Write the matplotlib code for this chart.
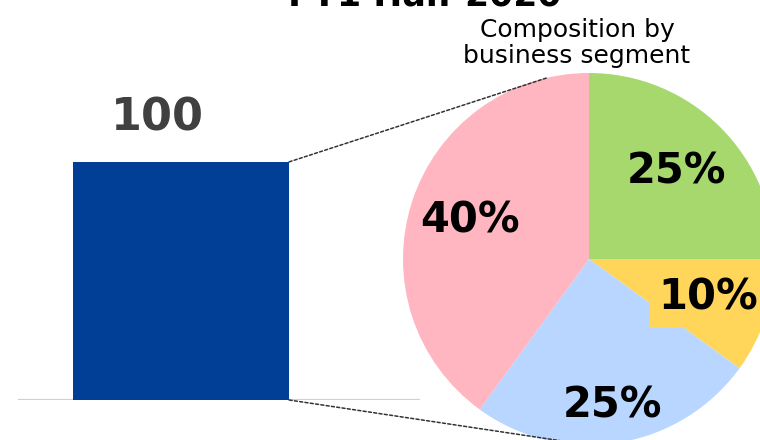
import numpy as np
import matplotlib.pyplot as plt
from matplotlib.patches import ConnectionPatch

# data
total_value = [100]
segment_share = [25, 10, 25, 40]
segment_colors = ['#A6D86E', '#FFD65A', '#B8D6FF', '#FFB6C0']
# how far out each percent label sits (fraction of radius)
label_radius = [0.665, 0.675, 0.795, 0.67]

fig = plt.figure(figsize=(7.6, 4.4), dpi=100)

# title (sits mostly above the top edge)
fig.text(425 / 760, 1 - 6 / 440, 'FY1 Half 2020', ha='center', va='baseline',
         fontsize=25, fontweight='bold', color='black')

# bar axes on the left
ax_bar = fig.add_axes([18 / 760, 40 / 440, 402 / 760, 400 / 440])
ax_bar.bar([0], total_value, width=1.0, color='#003F95')
ax_bar.set_xlim(-0.755, 1.106)
ax_bar.set_ylim(0, 168)
ax_bar.axhline(0, color='#D0D0D0', lw=1.6, zorder=0)
ax_bar.annotate(str(total_value[0]), xy=(0, total_value[0]), xytext=(-17, 22.5),
                textcoords='offset points', ha='center', va='baseline',
                fontsize=32, fontweight='bold', color='#404040')
ax_bar.axis('off')

# pie axes on the right, partly cut off by the figure edge
ax_pie = fig.add_axes([403 / 760, -5 / 440, 372 / 760, 372 / 440])
wedges, texts, autotexts = ax_pie.pie(segment_share, colors=segment_colors,
                                      startangle=90, counterclock=False,
                                      autopct='%d%%', radius=1,
                                      wedgeprops=dict(linewidth=0),
                                      textprops=dict(fontsize=30, fontweight='bold', color='black'))
ax_pie.set_xlim(-1, 1)
ax_pie.set_ylim(-1, 1)
ax_pie.set_aspect('auto')

# move the percent labels to their radius
for w, t, r in zip(wedges, autotexts, label_radius):
    mid = np.deg2rad((w.theta1 + w.theta2) / 2)
    t.set_position((r * np.cos(mid), r * np.sin(mid)))

# yellow box behind the small slice label
autotexts[1].set_bbox(dict(boxstyle='square,pad=0.22', facecolor=segment_colors[1], edgecolor='none'))

# subtitle above the pie
fig.text(577 / 760, 1 - 37 / 440, 'Composition by', ha='center', va='baseline', fontsize=18)
fig.text(577 / 760, 1 - 63 / 440, 'business segment', ha='center', va='baseline', fontsize=18)

# dotted lines from the bar corners to the pie
for y_bar, ang in [(total_value[0], 102.9), (0, -90)]:
    a = np.deg2rad(ang)
    con = ConnectionPatch(xyA=(0.5, y_bar), coordsA=ax_bar.transData,
                          xyB=(np.cos(a), np.sin(a)), coordsB=ax_pie.transData,
                          linestyle=(0, (2, 1.5)), color='#333333', lw=1.1)
    fig.add_artist(con)

plt.savefig('out.png', dpi=100)
